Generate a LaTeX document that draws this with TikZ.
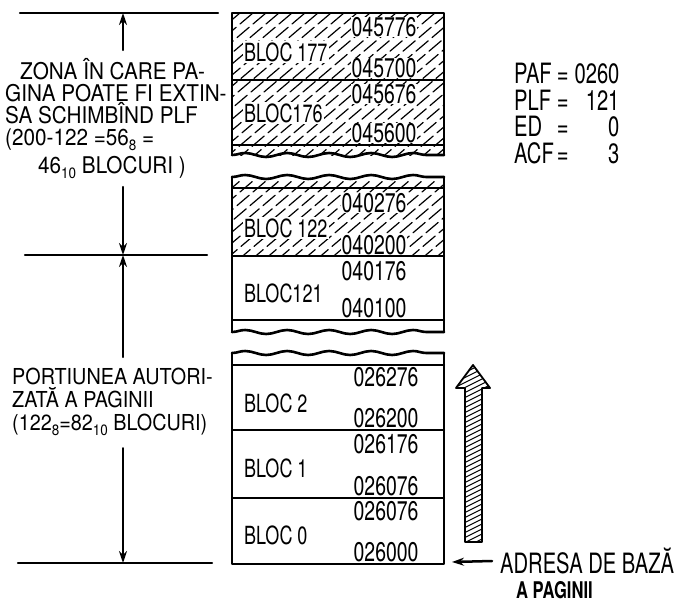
\documentclass[tikz,border=0pt]{standalone}
\usepackage{fontspec}
\setmainfont{TeX Gyre Heros}[FakeStretch=0.72]
\newfontfamily\zonefont{TeX Gyre Heros}[FakeStretch=0.9]
\usetikzlibrary{arrows.meta,decorations.pathmorphing}
\newcommand{\lowidx}[1]{\raisebox{-0.45ex}{\fontsize{15}{15}\selectfont #1}}
\tikzset{
	contur/.style={line width=2.6pt},
	despart/.style={line width=2pt},
	hasura/.style={line width=1.2pt, dash pattern=on 16pt off 5pt},
	ondulat/.style={decorate, decoration={snake, segment length=42pt, amplitude=2pt}},
	cota/.style={line width=2.2pt},
	bloc/.style={font=\fontsize{25}{25}\selectfont, fill=white, inner sep=1pt, anchor=west},
	adresa/.style={font=\fontsize{27}{27}\selectfont, fill=white, inner sep=0.3pt, anchor=east},
	zona/.style={font=\zonefont\fontsize{23}{22}\selectfont, align=left, inner sep=0pt, anchor=north west},
}
\begin{document}
\begin{tikzpicture}[line join=round, line cap=round, >={Stealth[length=12pt,width=8pt]}, x=1pt, y=-1pt]
	\useasboundingbox (0,0) rectangle (696,602);
	
	% hasura: zona extinsa (blocurile 177, 176)
	\begin{scope}
		\clip (232,13) rectangle (444,155);
		\foreach \k in {-180,-167,...,450}
		\draw[hasura] (\k,160) -- ++(200,-170);
	\end{scope}
	% hasura: bloc 122
	\begin{scope}
		\clip (232,180) rectangle (444,256);
		\foreach \k in {-100,-87,...,450}
		\draw[hasura] (\k,260) -- ++(100,-85);
	\end{scope}
	
	% sectiunea de sus
	\draw[contur] (232,155) -- (232,13) -- (444,13) -- (444,155);
	\draw[contur, ondulat] (232,155) -- (444,155);
	\draw[despart] (232,80) -- (444,80);
	\draw[despart] (232,145) -- (444,145);
	
	% sectiunea din mijloc
	\draw[contur] (232,177) -- (232,332);
	\draw[contur] (444,177) -- (444,332);
	\draw[contur, ondulat] (232,177) -- (444,177);
	\draw[contur, ondulat] (232,332) -- (444,332);
	\draw[despart] (232,188) -- (444,188);
	\draw[despart] (232,256) -- (444,256);
	\draw[despart] (232,320) -- (444,320);
	
	% sectiunea de jos
	\draw[contur] (232,353) -- (232,564) -- (444,564) -- (444,353);
	\draw[contur, ondulat] (232,353) -- (444,353);
	\draw[despart] (232,365) -- (444,365);
	\draw[despart] (232,430) -- (444,430);
	\draw[despart] (232,498) -- (444,498);
	
	% numele blocurilor
	\node[bloc] (b177) at (243,52)  {BLOC 177};
	\node[bloc] (b176) at (243,113) {BLOC176};
	\node[bloc] (b122) at (243,228) {BLOC 122};
	\node[bloc] (b121) at (243,293) {BLOC121};
	\node[bloc] (b2)   at (243,403) {BLOC 2};
	\node[bloc] (b1)   at (243,468) {BLOC 1};
	\node[bloc] (b0)   at (243,535) {BLOC 0};
	
	% adresele
	\node[adresa] (a45776) at (417,27)  {045776};
	\node[adresa] (a45700) at (417,68)  {045700};
	\node[adresa] (a45676) at (417,94)  {045676};
	\node[adresa] (a45600) at (417,133) {045600};
	\node[adresa] (a40276) at (407,203) {040276};
	\node[adresa] (a40200) at (407,245) {040200};
	\node[adresa] (a40176) at (407,271) {040176};
	\node[adresa] (a40100) at (407,308) {040100};
	\node[adresa] (a26276) at (419,377) {026276};
	\node[adresa] (a26200) at (419,418) {026200};
	\node[adresa] (a26176) at (419,444) {026176};
	\node[adresa] (a26076) at (419,486) {026076};
	\node[adresa] (b26076) at (419,511) {026076};
	\node[adresa] (a26000) at (419,552) {026000};
	
	% registrele
	\node[font=\fontsize{28}{20}\selectfont, inner sep=0pt, anchor=north west] (reg) at (514,63)
	{\begin{tabular}{@{}l@{\hspace{3pt}}l@{\hspace{6pt}}r@{}}
			PAF & = & 0260\\
			PLF & = & 121\\
			ED  & = & 0\\
			ACF & = & 3
	\end{tabular}};
	
	% cotele din stanga
	\coordinate (sus) at (123,13);
	\coordinate (mij) at (123,255);
	\coordinate (jos) at (123,563);
	\draw[cota] ([xshift=-103pt]sus) -- ([xshift=95pt]sus);
	\draw[cota] ([xshift=-98pt]mij) -- ([xshift=84pt]mij);
	\draw[cota] ([xshift=-105pt]jos) -- ([xshift=89pt]jos);
	
	\node[zona] (zona) at (5,58)
	{\hspace*{15pt}ZONA ÎN CARE PA-\\GINA POATE FI EXTIN-\\SA SCHIMBÎND PLF\\(200-122 =56\lowidx{8} =\\[4pt]\hspace*{33pt}46\lowidx{10} BLOCURI )};
	\node[zona, font=\zonefont\fontsize{22}{23}\selectfont] (port) at (12,368)
	{PORTIUNEA AUTORI-\\ZATĂ A PAGINII\\(122\lowidx{8}=82\lowidx{10} BLOCURI)};
	
	\draw[cota,->] ([yshift=8pt]zona.north -| sus) -- (sus);
	\draw[cota,->] ([yshift=-8pt]zona.south -| sus) -- (mij);
	\draw[cota,->] ([yshift=11pt]port.north -| sus) -- (mij);
	\draw[cota,->] ([yshift=-12pt]port.south -| sus) -- (jos);
	
	% sageata hasurata
	\begin{scope}
		\clip (473,365) -- (490,388) -- (482,388) -- (482,542) -- (465,542) -- (465,388) -- (456,388) -- cycle;
		\foreach \k in {360,365,...,570}
		\draw[line width=1pt] (450,\k) -- ++(50,-25);
	\end{scope}
	\draw[line width=1.8pt] (473,365) -- (490,388) -- (482,388) -- (482,542) -- (465,542) -- (465,388) -- (456,388) -- cycle;
	
	% adresa de baza
	\coordinate (baza) at (452,562);
	\node[font=\fontsize{28}{28}\selectfont, inner sep=0pt, anchor=west] (adr1) at (500,561) {ADRESA DE BAZĂ};
	\node[font=\bfseries\fontsize{23}{23}\selectfont, inner sep=0pt, anchor=west] (adr2) at (516,590) {A PAGINII};
	\draw[->, line width=2.5pt] ([xshift=-8pt]adr1.west) -- (baza);
\end{tikzpicture}
\end{document}
